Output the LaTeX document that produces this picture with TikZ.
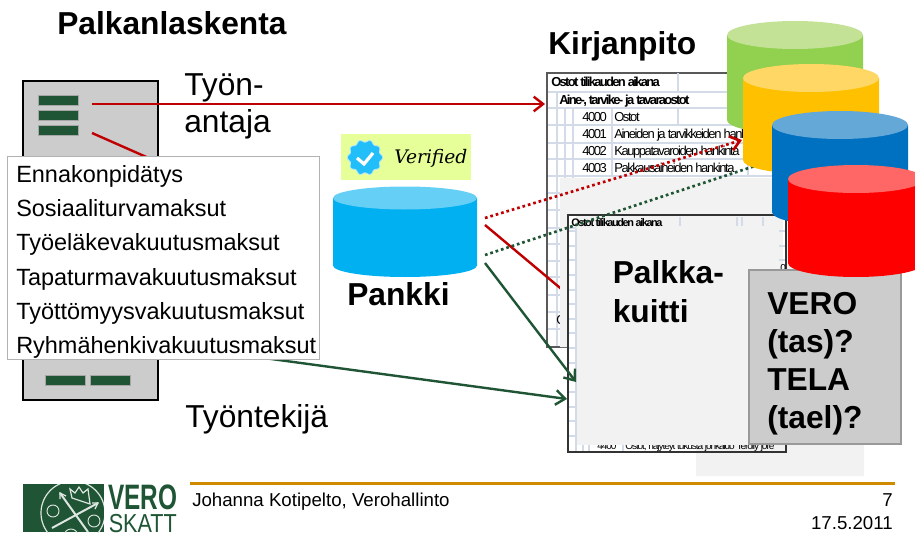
\documentclass[tikz,border=0pt]{standalone}
\usepackage{fontspec}
\setmainfont{Liberation Sans}
\newfontfamily\taulufont[LetterSpace=-11]{Liberation Sans}
\newfontfamily\taulubold[LetterSpace=-13]{Liberation Sans Bold}
\newfontfamily\verofont[FakeStretch=0.69]{Liberation Sans}
\newfontfamily\skattfont[FakeStretch=0.83]{Liberation Sans}
\newfontfamily\merkkifont{DejaVu Serif}
\usetikzlibrary{arrows.meta}
\definecolor{punainen}{HTML}{C00000}
\definecolor{vihrea}{HTML}{1F5535}
\definecolor{ruudukko}{HTML}{D3DAE8}
\definecolor{paneeli}{HTML}{F2F2F2}
\definecolor{kulta}{HTML}{D08A00}
\definecolor{merkkitausta}{HTML}{E6FF99}
\definecolor{merkkisini}{HTML}{22BEFA}
\definecolor{pankkirunko}{HTML}{00B0F0}
\definecolor{pankkikansi}{HTML}{66CFF6}
\definecolor{vihrearunko}{HTML}{92D050}
\definecolor{vihreakansi}{HTML}{C3E296}
\definecolor{keltarunko}{HTML}{FFC000}
\definecolor{keltakansi}{HTML}{FFD764}
\definecolor{sinirunko}{HTML}{0070C0}
\definecolor{sinikansi}{HTML}{64A8D8}
\definecolor{punarunko}{HTML}{FF0000}
\definecolor{punakansi}{HTML}{FF6666}
\tikzset{
  otsikko/.style={anchor=base west,inner sep=0pt,font=\fontsize{23.8}{28}\selectfont\bfseries},
  nimi/.style={anchor=base west,inner sep=0pt,font=\fontsize{23.8}{28}\selectfont},
  rivi/.style={anchor=base west,inner sep=0pt,font=\fontsize{17.6}{20}\selectfont},
  solu/.style={anchor=base west,inner sep=0pt,font=\taulufont\fontsize{9.75}{11}\selectfont},
  solub/.style={anchor=base west,inner sep=0pt,font=\taulubold\fontsize{9.75}{11}\selectfont},
  pieni/.style={anchor=base west,inner sep=0pt,font=\taulufont\fontsize{7.6}{9}\selectfont},
  alaosa/.style={inner sep=0pt,font=\fontsize{14}{16}\selectfont},
  palkki/.style={fill=vihrea,draw=gray!70,line width=.4pt,minimum width=30pt,minimum height=7.5pt,inner sep=0pt},
  viiva/.style={line width=1.8pt},
  pilkut/.style={line width=2pt,dash pattern=on 2pt off 2.2pt},
  nuoli/.style={-{Straight Barb[length=7pt,width=11pt]}}
}
% nimi, x, kannen y, pohjan y, x-sade, y-sade, runko, kansi
\newcommand{\sylinteri}[8]{
  \fill[#7] (#2-#5,#3) -- (#2-#5,#4) arc[start angle=180,end angle=0,x radius=#5,y radius=#6] -- (#2+#5,#3) -- cycle;
  \fill[#8] (#2,#3) ellipse[x radius=#5,y radius=#6];
  \coordinate (#1) at (#2,#3);
}
\begin{document}
\begin{tikzpicture}[x=.75pt,y=-.75pt]
  \clip (0,0) rectangle (915,553);

  % Kirjanpidon taulukko
  \node[draw=black!65,line width=1.2pt,fill=white,minimum width=182pt,minimum height=205.5pt,inner sep=0pt] (kirjanpito) at (668.5,210) {};
  \foreach \y in {92,108,125,143,159,176,193,210,228,244,261,277,295,312,329}
    \draw[ruudukko,line width=.8pt] (548,\y) -- (789,\y);
  \draw[ruudukko,line width=1.5pt] (548,92) -- (789,92) (548,108) -- (789,108) (548,210) -- (789,210);
  \draw[ruudukko,line width=.8pt] (557,92) -- (557,346) (565,108) -- (565,346) (573,108) -- (573,346)
    (612,108) -- (612,176) (678,73) -- (678,92) (678,108) -- (678,125) (748,159) -- (748,176);
  \node[solub] (ostot) at (551,86) {Ostot tilikauden aikana};
  \node[solub] (aine) at (559,104) {Aine-, tarvike- ja tavaraostot};
  \foreach \y/\numero/\teksti [count=\i] in {121/4000/Ostot,138/4001/Aineiden ja tarvikkeiden hankinta,155/4002/Kauppatavaroiden hankinta,172/4003/Pakkausaineiden hankinta} {
    \node[solu] (numero\i) at (582,\y) {\numero};
    \node[solu] (tili\i) at (614,\y) {\teksti};
  }
  \node[solu] (jaanne) at (556,324) {O};

  % Punainen viiva paneelin alle
  \coordinate (pankki-r) at (485,225);
  \coordinate (kuitti-r) at (590,313);
  \draw[viiva,punainen] (pankki-r) -- (kuitti-r);

  % Vaalea paneeli
  \fill[paneeli] (560,178) -- (864,178) -- (864,476) -- (696,476) -- (696,347) -- (560,347) -- cycle;

  % Palkkakuitti
  \node[draw=black!80,line width=1.2pt,fill=white,minimum width=163.5pt,minimum height=177.75pt,inner sep=0pt] (kuitti) at (677,333.5) {};
  \fill[paneeli] (696,445) rectangle (785,451);
  \node[pieni] (rivi4400) at (597,449.5) {4400};
  \node[pieni] (rivialin) at (625,449.5) {Ostot, hajyteyt tukusta jonkaido Terolly jore};
  \fill[paneeli] (576,216) rectangle (783,445);
  \foreach \y in {231,246,260,275,290,304,319,333,348,363,377,392,407,421,436} {
    \draw[ruudukko,line width=1pt] (569,\y) -- (576,\y);
    \draw[ruudukko,line width=.8pt] (779,\y) -- (785,\y);
  }
  \draw[ruudukko,line width=.8pt] (569,228) -- (576,228) (576,228) -- (576,451) (583,445) -- (583,451) (589,445) -- (589,451) (623,445) -- (623,451);
  \draw[ruudukko,line width=1pt] (680,217) -- (680,226) (737,217) -- (737,226) (742,217) -- (742,226) (763,217) -- (763,226);
  \node[solub,font=\taulubold\fontsize{8.2}{10}\selectfont] (kuittiostot) at (571,226) {Ostot tilikauden aikana};
  \node[pieni] (nolla) at (780,271) {0};
  \node[otsikko] (palkka) at (612.5,283) {Palkka-};
  \node[otsikko] (kuittiteksti) at (612.5,322) {kuitti};

  % Harmaa laatikko
  \node[draw=gray!80,line width=.8pt,fill=black!20,minimum width=114pt,minimum height=130.5pt,inner sep=0pt] (veroboksi) at (825,357) {};
  \node[otsikko] (vero) at (767,314) {VERO};
  \node[otsikko] (tas) at (767,352) {(tas)?};
  \node[otsikko] (tela) at (767,390.5) {TELA};
  \node[otsikko] (tael) at (767,428.5) {(tael)?};

  % Tyonantaja
  \node[draw=black,line width=1.3pt,fill=black!20,minimum width=101.25pt,minimum height=239.25pt,inner sep=0pt] (yritys) at (90.5,240.5) {};
  \node[palkki] (palkki1) at (58,100) {};
  \node[palkki] (palkki2) at (58,115) {};
  \node[palkki] (palkki3) at (58,130) {};
  \node[palkki] (palkki4) at (65,380) {};
  \node[palkki] (palkki5) at (110,380) {};

  % Viivat
  \coordinate (yritys-a) at (92,104);
  \coordinate (kirjanpito-a) at (545,104);
  \coordinate (yritys-b) at (92,133);
  \coordinate (lista-b) at (160,163);
  \coordinate (lista-c) at (190,348);
  \coordinate (kuitti-c) at (567,399);
  \draw[viiva,punainen,nuoli] (yritys-a) -- (kirjanpito-a);
  \draw[viiva,punainen] (yritys-b) -- (lista-b);
  \draw[viiva,vihrea,nuoli] (lista-c) -- (kuitti-c);

  % Maksut
  \node[draw=gray!60,line width=.6pt,fill=white,minimum width=234pt,minimum height=152.25pt,inner sep=0pt] (lista) at (163,257.5) {};
  \foreach \y/\teksti [count=\i] in {182/Ennakonpidätys,216.5/Sosiaaliturvamaksut,250.5/Työeläkevakuutusmaksut,285/Tapaturmavakuutusmaksut,319/Työttömyysvakuutusmaksut,353/Ryhmähenkivakuutusmaksut}
    \node[rivi] (maksu\i) at (16,\y) {\teksti};

  % Otsikot
  \node[otsikko] (palkanlaskenta) at (57,34) {Palkanlaskenta};
  \node[otsikko] (kirjanpitoteksti) at (548,55) {Kirjanpito};
  \node[nimi] (tyon) at (184,95) {Työn-};
  \node[nimi] (antaja) at (184,132) {antaja};
  \node[nimi] (tyontekija) at (185,427) {Työntekijä};
  \node[otsikko] (pankkiteksti) at (347,305) {Pankki};

  % Varmennusmerkki
  \node[fill=merkkitausta,minimum width=97.5pt,minimum height=34.5pt,inner sep=0pt] (merkki) at (406,157) {};
  \filldraw[fill=merkkisini,draw=white!70!cyan,line width=.6pt] plot[domain=0:360,samples=120,smooth] ({365+(16.5+1.2*cos(10*\x))*cos(\x)},{157.5+(16.5+1.2*cos(10*\x))*sin(\x)}) -- cycle;
  \draw[white,line width=2.4pt] (357,158) -- (364,164) -- (373,153);
  \node[anchor=base west,inner sep=0pt,font=\merkkifont\itshape\fontsize{14}{16}\selectfont] (verified) at (394,163) {Verified};

  % Pankki
  \sylinteri{pankki}{405}{198}{265.5}{72}{11.5}{pankkirunko}{pankkikansi}

  % Katkoviivat ja nuolet
  \coordinate (pankki-a) at (485,218);
  \coordinate (kirjanpito-b) at (742,140);
  \coordinate (pankki-b) at (485,255);
  \coordinate (keltainen-b) at (770,161);
  \coordinate (pankki-c) at (485,263);
  \coordinate (kuitti-d) at (576,382);
  \draw[pilkut,punainen,nuoli] (pankki-a) -- (kirjanpito-b);
  \draw[pilkut,vihrea] (pankki-b) -- (keltainen-b);
  \draw[viiva,vihrea,nuoli] (pankki-c) -- (kuitti-d);

  % Sylinterit
  \sylinteri{vihreasyl}{795}{35}{120}{68}{14}{vihrearunko}{vihreakansi}
  \sylinteri{keltasyl}{811}{78}{160}{68}{14}{keltarunko}{keltakansi}
  \sylinteri{sinisyl}{840}{125}{212}{68}{14}{sinirunko}{sinikansi}
  \sylinteri{punasyl}{856}{179}{263}{68}{14}{punarunko}{punakansi}

  % Alatunniste
  \coordinate (kulta-a) at (190,483.5);
  \coordinate (kulta-b) at (895,483.5);
  \draw[kulta,line width=2.3pt] (kulta-a) -- (kulta-b);
  \node[alaosa,anchor=base west] (tekija) at (192,506) {Johanna Kotipelto, Verohallinto};
  \node[alaosa,anchor=base east] (sivu) at (893,506) {7};
  \node[alaosa,anchor=base east] (pvm) at (893,529) {17.5.2011};

  % Logo
  \begin{scope}
    \clip (23,484) rectangle (104,532);
    \fill[vihrea] (23,484) rectangle (104,532);
    \draw[white!85!vihrea,line width=.9pt] (73,513) circle (32);
    \draw[white!85!vihrea,line width=.7pt] (53,511) circle (6) (94,521) circle (6) (71,536) circle (7);
    \draw[white!85!vihrea,line width=1.5pt] (52,528) -- (98,503) (60,493) -- (88,532);
    \draw[white!85!vihrea,line width=.9pt] (92,503) -- (98,503) -- (95,509) (60,499) -- (60,493) -- (66,496);
    \draw[white!85!vihrea,line width=.9pt] (72,498) -- (70,489) -- (75,493) -- (79,487) -- (83,493) -- (88,489) -- (90,504) -- cycle;
  \end{scope}
  \node[anchor=base west,inner sep=0pt,text=vihrea,font=\verofont\bfseries\fontsize{26.5}{30}\selectfont] (verologo) at (108,509.5) {VERO};
  \node[anchor=base west,inner sep=0pt,text=vihrea,font=\skattfont\fontsize{19.5}{22}\selectfont] (skattlogo) at (108.5,532.5) {SKATT};
\end{tikzpicture}
\end{document}
